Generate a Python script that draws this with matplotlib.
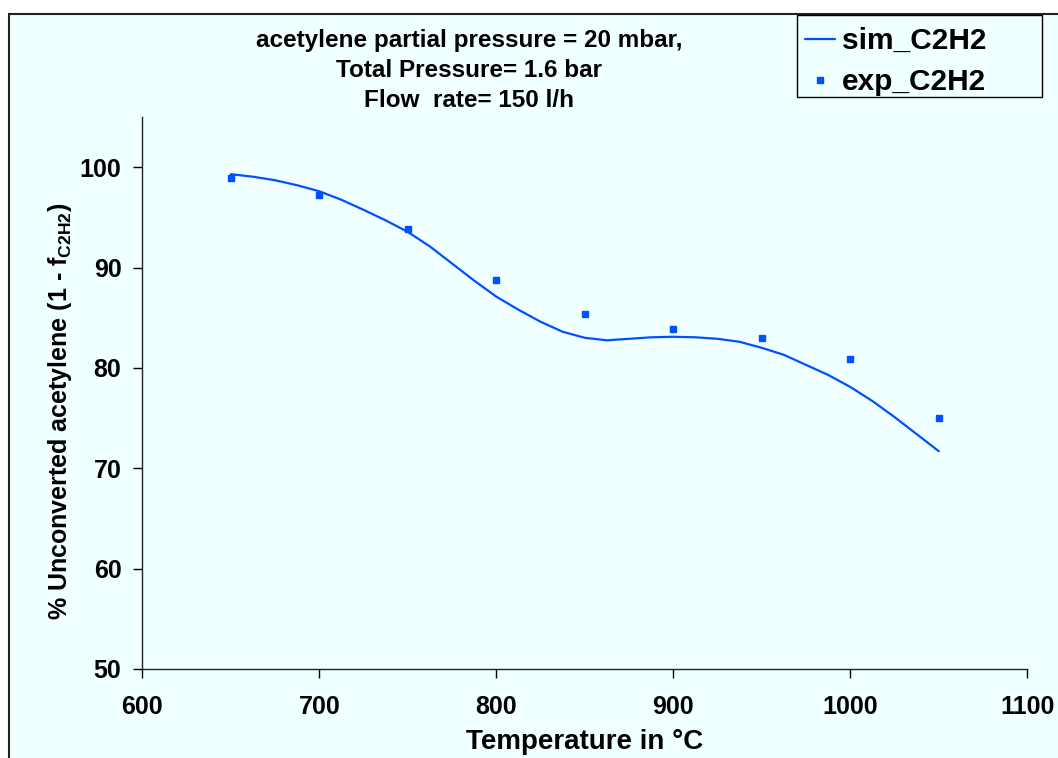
import numpy as np
import matplotlib
matplotlib.use('Agg')
import matplotlib.pyplot as plt
from matplotlib.patches import Rectangle

# Daten
temp_exp = [650, 700, 750, 800, 850, 900, 950, 1000, 1050]
val_exp = [98.9, 97.2, 93.8, 88.8, 85.4, 83.9, 83.0, 80.9, 75.0]

temp_sim = [650, 662.5, 675, 687.5, 700, 712.5, 725, 737.5, 750, 762.5, 775, 787.5, 800, 812.5,
            825, 837.5, 850, 862.5, 875, 887.5, 900, 912.5, 925, 937.5, 950, 962.5, 975, 987.5,
            1000, 1012.5, 1025, 1037.5, 1050]
val_sim = [99.3, 99.05, 98.7, 98.2, 97.6, 96.75, 95.75, 94.7, 93.55, 92.1, 90.4, 88.7, 87.1,
           85.8, 84.6, 83.6, 83.0, 82.75, 82.9, 83.05, 83.1, 83.05, 82.9, 82.6, 82.0, 81.3,
           80.3, 79.3, 78.1, 76.7, 75.1, 73.4, 71.7]

x_ticks = [600, 700, 800, 900, 1000, 1100]
y_ticks = [50, 60, 70, 80, 90, 100]

title_lines = ['acetylene partial pressure = 20 mbar,', 'Total Pressure= 1.6 bar', 'Flow  rate= 150 l/h']

bg = '#F0FFFF'
blau = '#0050FF'

plt.rcParams['font.family'] = ['Liberation Sans', 'DejaVu Sans']
plt.rcParams['font.weight'] = 'bold'
plt.rcParams['mathtext.fontset'] = 'custom'
plt.rcParams['mathtext.rm'] = 'Liberation Sans:bold'
plt.rcParams['mathtext.bf'] = 'Liberation Sans:bold'

W, H = 1058, 758
fig = plt.figure(figsize=(W / 100, H / 100), dpi=100, facecolor='white')

# Rahmen um die Grafik
fig.patches.append(Rectangle((9 / W, -0.1), 1.2, 1.1 - 14.5 / H, transform=fig.transFigure,
                             facecolor=bg, edgecolor='#222222', linewidth=1.5, zorder=-10))
# Rahmen der Legende
fig.patches.append(Rectangle((797 / W, 1 - 97 / H), (1042 - 797) / W, (97 - 15) / H,
                             transform=fig.transFigure, facecolor=bg, edgecolor='black',
                             linewidth=1, zorder=-5))

ax = fig.add_axes([142.3 / W, 1 - 669 / H, (1027.3 - 142.3) / W, (669 - 117) / H])
ax.set_facecolor('none')
ax.set_zorder(1)

ax.plot(temp_sim, val_sim, color=blau, linewidth=1.6, label='sim_C2H2', solid_capstyle='round')
ax.plot(temp_exp, val_exp, linestyle='none', marker='s', markersize=5, color=blau, label='exp_C2H2')

ax.set_xlim(600, 1100)
ax.set_ylim(50, 105)
ax.set_xticks(x_ticks)
ax.set_yticks(y_ticks)
ax.tick_params(direction='out', length=6.5, width=1, labelsize=18, pad=8.5)
ax.tick_params(axis='x', pad=12)
for s in ['top', 'right']:
    ax.spines[s].set_visible(False)
for s in ['left', 'bottom']:
    ax.spines[s].set_linewidth(1)
    ax.spines[s].set_color('#222222')

fig.text(60 / W, 1 - 411 / H, '% Unconverted acetylene (1 - f$_{\\mathrm{C2H2}}$)', rotation=90,
         fontsize=18, fontweight='bold', ha='center', va='center')
fig.text(585 / W, 1 - 742 / H, 'Temperature in \u00b0C', fontsize=20, fontweight='bold',
         ha='center', va='center')

fig.text(469 / W, 1 - 29 / H, '\n'.join(title_lines), fontsize=17.5, fontweight='bold',
         ha='center', va='top', multialignment='center', linespacing=1.4)

leg = fig.legend(loc='upper left', bbox_to_anchor=(799 / W, 1 - 21 / H), borderaxespad=0,
                 fontsize=21.5, frameon=False, numpoints=1, handlelength=1.0,
                 handletextpad=0.25, labelspacing=0.45, borderpad=0.2)

fig.savefig('out.png', dpi=100, facecolor='white')
